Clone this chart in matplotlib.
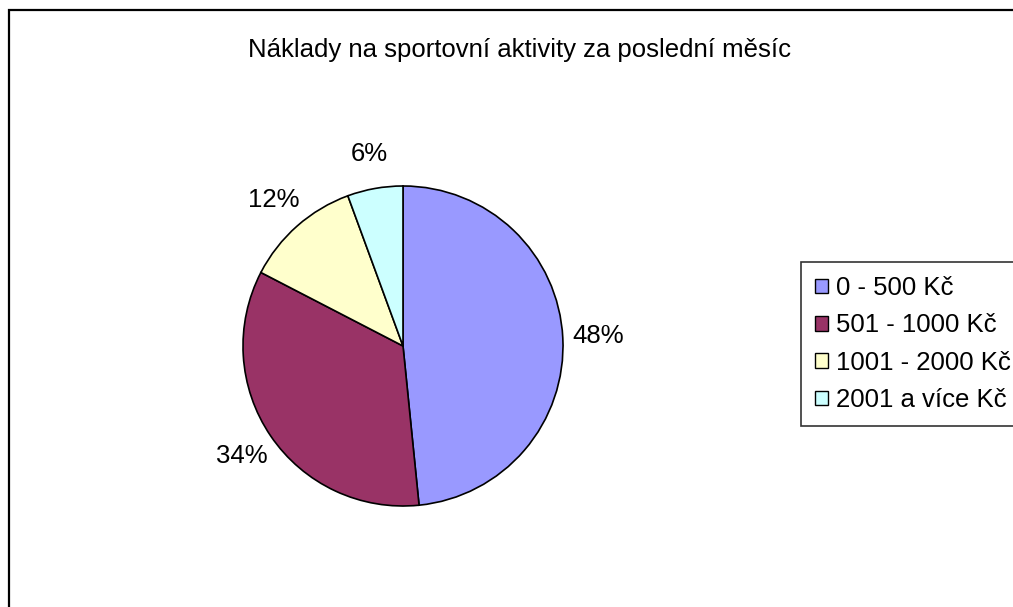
import matplotlib
matplotlib.use("Agg")
from matplotlib import pyplot
from matplotlib.patches import Patch, Rectangle

pyplot.rcParams["font.family"] = ["Liberation Sans", "DejaVu Sans"]

title = "Náklady na sportovní aktivity za poslední měsíc"
categories = ["0 - 500 Kč", "501 - 1000 Kč", "1001 - 2000 Kč", "2001 a více Kč"]
shares = [48.4, 34.2, 11.8, 5.6]
colors = ["#9999FF", "#993366", "#FFFFCC", "#CCFFFF"]

W, H = 1013, 607
fig = pyplot.figure(figsize=(W / 100, H / 100), dpi=100)

# outer chart border, right and bottom run off the picture
fig.patches.append(Rectangle((9 / W, -0.1), 1.2, 1 - 10 / H + 0.1,
                             transform=fig.transFigure, fill=False,
                             edgecolor="black", linewidth=1.6))

fig.text(520 / W, 1 - 50 / H, title, ha="center", va="center", fontsize=18.5)

cx, cy, r = 403, 346, 160
ax = fig.add_axes([(cx - r) / W, (H - cy - r) / H, 2 * r / W, 2 * r / H])
ax.pie(shares, colors=colors, startangle=90, counterclock=False,
       autopct=lambda p: f"{p:.0f}%", pctdistance=1.22,
       wedgeprops={"edgecolor": "black", "linewidth": 1.2},
       textprops={"fontsize": 18.5})
ax.set_xlim(-1, 1)
ax.set_ylim(-1, 1)

handles = [Patch(facecolor=c, edgecolor="black", linewidth=1) for c in colors]
leg = fig.legend(handles, categories, loc="upper left",
                 bbox_to_anchor=(801 / W, 1 - 262 / H), borderaxespad=0,
                 fontsize=18.5, frameon=True, fancybox=False,
                 handlelength=0.5, handleheight=0.5, handletextpad=0.3,
                 labelspacing=0.52, borderpad=0.55)
leg.get_frame().set_edgecolor("black")
leg.get_frame().set_linewidth(1.2)

fig.savefig("out.png", dpi=100)
